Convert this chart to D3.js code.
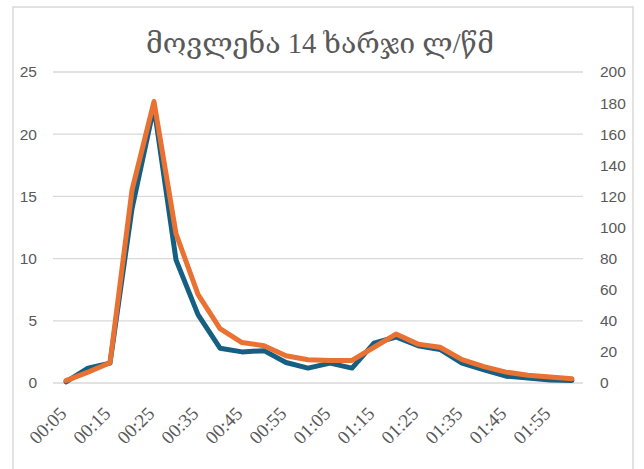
<!DOCTYPE html>
<html>
<head>
<meta charset="utf-8">
<script src="https://cdn.jsdelivr.net/npm/d3@7"></script>
<style>
  html, body { margin: 0; padding: 0; background: #fff; }
  svg { display: block; }
</style>
</head>
<body>
<svg id="chart" width="644" height="469"></svg>
<script>
const title = "მოვლენა 14 ხარჯი ლ/წმ";
const times = ["00:05","00:10","00:15","00:20","00:25","00:30","00:35","00:40","00:45","00:50",
               "00:55","01:00","01:05","01:10","01:15","01:20","01:25","01:30","01:35","01:40",
               "01:45","01:50","01:55","02:00"];
const seriesLeft = [0.1, 1.2, 1.6, 14, 22.2, 9.9, 5.5, 2.8, 2.5, 2.6,
                    1.65, 1.2, 1.6, 1.2, 3.2, 3.7, 3.0, 2.7, 1.6, 1.05,
                    0.55, 0.4, 0.25, 0.2];
const seriesRight = [1.5, 7, 13, 124, 181, 96, 57, 35, 26, 24,
                     17.5, 15, 14.5, 14.5, 23, 31.5, 25, 23, 15, 10.5,
                     7, 5, 3.8, 2.7];
const leftTicks = [0, 5, 10, 15, 20, 25];
const rightTicks = [0, 20, 40, 60, 80, 100, 120, 140, 160, 180, 200];

const svg = d3.select("#chart");
const plot = { left: 55, right: 583, top: 72, bottom: 383 };

// chart border
svg.append("rect")
  .attr("x", 13).attr("y", 7).attr("width", 620).attr("height", 480)
  .attr("fill", "#fff").attr("stroke", "#d9d9d9").attr("stroke-width", 1.5);

const x = d3.scaleBand().domain(times).range([plot.left, plot.right]);
const yL = d3.scaleLinear().domain([0, 25]).range([plot.bottom, plot.top]);
const yR = d3.scaleLinear().domain([0, 200]).range([plot.bottom, plot.top]);

// gridlines
svg.append("g").selectAll("line").data(leftTicks.filter(d => d > 0)).join("line")
  .attr("x1", plot.left - 2).attr("x2", plot.right)
  .attr("y1", d => yL(d)).attr("y2", d => yL(d))
  .attr("stroke", "#d9d9d9").attr("stroke-width", 1.3);

// bottom axis line
svg.append("line")
  .attr("x1", plot.left - 2).attr("x2", plot.right)
  .attr("y1", plot.bottom).attr("y2", plot.bottom)
  .attr("stroke", "#d9d9d9").attr("stroke-width", 1.5);

// left axis
const leftAxis = d3.axisLeft(yL).tickValues(leftTicks).tickSize(0).tickPadding(0);
const gL = svg.append("g").attr("transform", `translate(37,0)`).call(leftAxis);
gL.select(".domain").remove();
gL.selectAll("text").attr("font-family", "'Liberation Sans', Arial, sans-serif")
  .attr("font-size", 15.5).attr("fill", "#595959");

// right axis
const rightAxis = d3.axisRight(yR).tickValues(rightTicks).tickSize(0).tickPadding(0);
const gR = svg.append("g").attr("transform", `translate(600,0)`).call(rightAxis);
gR.select(".domain").remove();
gR.selectAll("text").attr("font-family", "'Liberation Sans', Arial, sans-serif")
  .attr("font-size", 15.5).attr("fill", "#595959");

// x axis labels (every other)
const xAxis = d3.axisBottom(x).tickValues(times.filter((d, i) => i % 2 === 0)).tickSize(0).tickPadding(0);
const gX = svg.append("g").attr("transform", `translate(0,${plot.bottom})`).call(xAxis);
gX.select(".domain").remove();
gX.selectAll("text")
  .attr("font-family", "'Liberation Serif', 'DejaVu Serif', serif")
  .attr("font-size", 19).attr("fill", "#595959")
  .attr("text-anchor", "end")
  .attr("y", 0)
  .attr("dy", "0.35em")
  .attr("transform", "translate(-3,27) rotate(-45)");

// lines
const lineL = d3.line().x((d, i) => x(times[i]) + x.bandwidth() / 2).y(d => yL(d));
const lineR = d3.line().x((d, i) => x(times[i]) + x.bandwidth() / 2).y(d => yR(d));

svg.append("path").datum(seriesLeft).attr("d", lineL)
  .attr("fill", "none").attr("stroke", "#156082").attr("stroke-width", 5)
  .attr("stroke-linejoin", "round").attr("stroke-linecap", "round");
svg.append("path").datum(seriesRight).attr("d", lineR)
  .attr("fill", "none").attr("stroke", "#E97132").attr("stroke-width", 5)
  .attr("stroke-linejoin", "round").attr("stroke-linecap", "round");

// title
svg.append("text").attr("x", 320).attr("y", 53).attr("text-anchor", "middle")
  .attr("font-family", "'Liberation Serif', 'DejaVu Serif', 'DejaVu Sans', serif")
  .attr("font-size", 28.5).attr("fill", "#595959").text(title);
</script>
</body>
</html>
